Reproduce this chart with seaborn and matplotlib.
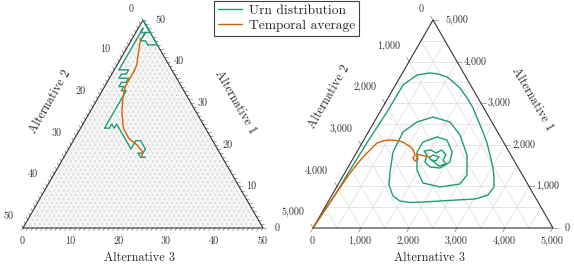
import numpy as np
import matplotlib
matplotlib.use("Agg")
import matplotlib.pyplot as plt
import seaborn as sns

# ---- data: shares of alternative 1 and alternative 3 (alternative 2 = rest)
left_total = 50
left_urn_alt1 = [46, 47, 47, 50, 44, 44, 45, 45, 47, 47, 48,
                 38, 38, 37, 37, 36, 36, 35, 35, 34, 34, 33, 33, 32,
                 24, 24, 25, 24, 25, 24, 23, 22, 21, 20, 19, 20, 21, 21, 19, 18, 18, 17, 17]
left_urn_alt3 = [2, 2, 3, 0, 6, 4, 3, 2, 2, 1, 1,
                 1, 3, 3, 2, 2, 4, 4, 3, 3, 4, 4, 5, 5,
                 5, 6, 6, 7, 7, 8, 9, 10, 11, 12, 13, 13, 13, 14, 16, 16, 15, 16, 17]
left_avg_alt1 = [45.6, 43.2, 41.0, 39.2, 37.6, 36.0, 34.0, 31.2, 28.0, 24.0, 21.6, 20.0, 18.3, 17.1]
left_avg_alt3 = [1.7, 2.6, 3.4, 4.1, 4.3, 4.3, 4.3, 5.2, 6.6, 8.9, 11.2, 13.7, 15.8, 16.2]

right_total = 5000
right_urn_alt1 = [0, 800, 1394, 2164, 2789, 3438, 3558, 3678, 3702, 3726, 3702, 3630, 3517, 3366,
                  3132, 2885, 2596, 2308, 2043, 1755, 1442, 1202, 986, 793, 697, 673, 625, 613,
                  649, 769, 1034,
                  1346, 1827, 2308, 2548, 2668, 2548, 2236, 1755, 1274, 1058, 986, 1082, 1394,
                  1827, 2067, 2188, 2116, 1827, 1587, 1442, 1466,
                  1587, 1755, 1851, 1875, 1803, 1875, 1755, 1635, 1539, 1490, 1587, 1683, 1755,
                  1707, 1611, 1635]
right_urn_alt3 = [0, 60, 74, 106, 148, 156, 242, 328, 441, 575, 754, 977, 1158, 1379,
                  1641, 1891, 2139, 2387, 2604, 2810, 3029, 3170, 3277, 3249, 3027, 2662, 1979, 1714,
                  1487, 1281, 1066,
                  931, 754, 721, 892, 1166, 1579, 1944, 2331, 2571, 2533, 2152, 1750, 1469,
                  1254, 1258, 1489, 1733, 1983, 2060, 1925, 1704,
                  1539, 1498, 1387, 1521, 1660, 1750, 1893, 1891, 2002, 1879, 1727, 1575, 1623,
                  1771, 1756, 1641]
right_avg_alt1 = [0, 450, 900, 1300, 1563, 1755, 1900, 2043, 2100, 2116, 2100, 2067, 1990, 1923,
                  1840, 1755, 1683, 1611, 1659, 1779, 1755, 1731, 1707]
right_avg_alt3 = [0, 35, 70, 110, 156, 206, 260, 312, 430, 546, 700, 841, 980, 1100,
                  1180, 1248, 1242, 1319, 1358, 1277, 1352, 1469, 1583]

left_ticks = [0, 10, 20, 30, 40, 50]
right_ticks = [0, 1000, 2000, 3000, 4000, 5000]
series_names = ["Urn distribution", "Temporal average"]

sns.set_theme(style="white")
plt.rcParams["font.family"] = ["cmr10", "DejaVu Serif"]
plt.rcParams["axes.formatter.use_mathtext"] = True
plt.rcParams["axes.unicode_minus"] = False

green, orange = sns.color_palette("Dark2", 2)
S = np.sqrt(3) / 2
EDGE = "0.2"
TICK_FS = 7.3
LABEL_FS = 8.8


def project(alt1, alt3, total):
    a1 = np.asarray(alt1, float) / total
    a3 = np.asarray(alt3, float) / total
    return a3 + a1 / 2, a1 * S


fig = plt.figure(figsize=(5.74, 2.7), dpi=100)
ax_l = fig.add_axes([23 / 574, 42 / 270, 240 / 574, 208 / 270])
ax_r = fig.add_axes([313 / 574, 42 / 270, 240 / 574, 208 / 270])
px = 1 / 240  # one pixel in data units

left_labels = []


def draw_frame(ax, total, grid_step, grid_col, grid_lw, tick_step, tick_len, ticks, fmt, lab_pos):
    ax.set_xlim(0, 1)
    ax.set_ylim(0, S)
    ax.axis("off")
    for v in np.arange(grid_step, total, grid_step):
        for a1, a3 in (([v, v], [0, total - v]),
                       ([0, total - v], [v, v]),
                       ([0, total - v], [total - v, 0])):
            x, y = project(a1, a3, total)
            ax.plot(x, y, color=grid_col, lw=grid_lw, zorder=1, solid_capstyle="butt")
    x, y = project([0, 0, total, 0], [0, total, 0, 0], total)
    ax.plot(x, y, color=EDGE, lw=0.8, zorder=3, clip_on=False)
    L = tick_len * px
    for v in np.arange(0, total + tick_step / 2, tick_step):
        # bottom: alternative 3
        x, y = project(0, v, total)
        ax.plot([x, x - 0.5 * L], [y, y - S * L], color="0.45", lw=0.45, clip_on=False)
        # left: alternative 2
        x, y = project(total - v, 0, total)
        ax.plot([x, x - 0.5 * L], [y, y + S * L], color="0.45", lw=0.45, clip_on=False)
        # right: alternative 1
        x, y = project(v, total - v, total)
        ax.plot([x, x + L], [y, y], color="0.45", lw=0.45, clip_on=False)
    for v in ticks:
        s = fmt(v)
        x, y = project(0, v, total)
        ax.annotate(s, (x, y), xytext=(-1, -13), textcoords="offset pixels",
                    ha="center", va="center", fontsize=TICK_FS, color="0.2")
        x, y = project(total - v, 0, total)
        t = ax.annotate(s, (x, y), xytext=(-9, 10), textcoords="offset pixels",
                        ha="right", va="center", fontsize=TICK_FS, color="0.2")
        left_labels.append(t)
        x, y = project(v, total - v, total)
        off = 12 if v in (0, total) else 7
        ax.annotate(s, (x, y), xytext=(off, 0), textcoords="offset pixels",
                    ha="left", va="center", fontsize=TICK_FS, color="0.2")
    (x2, y2), (x1, y1), (x3, y3) = lab_pos
    ax.text(x2, y2, "Alternative 2", rotation=60, ha="center", va="center",
            rotation_mode="anchor", fontsize=LABEL_FS)
    ax.text(x1, y1, "Alternative 1", rotation=-60, ha="center", va="center",
            rotation_mode="anchor", fontsize=LABEL_FS)
    ax.text(x3, y3, "Alternative 3", ha="center", va="center", fontsize=LABEL_FS)


draw_frame(ax_l, left_total, 1, "0.8", 0.3, 1, 3.0, left_ticks, str,
           [(0.1125, 0.525), (0.883, 0.525), (0.4875, -0.125)])
draw_frame(ax_r, right_total, 500, "0.86", 0.5, 1000, 4.5, right_ticks, lambda v: f"{v:,}",
           [(0.0667, 0.546), (0.9125, 0.5375), (0.4875, -0.125)])

for ax, total, u1, u3, m1, m3 in (
        (ax_l, left_total, left_urn_alt1, left_urn_alt3, left_avg_alt1, left_avg_alt3),
        (ax_r, right_total, right_urn_alt1, right_urn_alt3, right_avg_alt1, right_avg_alt3)):
    x, y = project(u1, u3, total)
    sns.lineplot(x=x, y=y, sort=False, estimator=None, color=green, lw=1.0, ax=ax,
                 zorder=4, label=series_names[0])
    x, y = project(m1, m3, total)
    sns.lineplot(x=x, y=y, sort=False, estimator=None, color=orange, lw=1.0, ax=ax,
                 zorder=5, label=series_names[1])
    if ax.get_legend() is not None:
        ax.get_legend().remove()

# left-edge labels slide outward with their width
fig.canvas.draw()
renderer = fig.canvas.get_renderer()
for t in left_labels:
    w = t.get_window_extent(renderer).width
    t.xyann = (-9, 9 + 0.3 * w)

handles = ax_l.get_lines()[-2:]
leg = fig.legend(handles, series_names, loc="upper center", bbox_to_anchor=(0.4991, 0.998),
                 frameon=True, fancybox=False, edgecolor="0.25", framealpha=1,
                 fontsize=9.7, handlelength=1.8, borderpad=0.3, labelspacing=0.2,
                 handletextpad=0.5, borderaxespad=0)
leg.get_frame().set_linewidth(0.8)

fig.savefig("out.png", dpi=100)
